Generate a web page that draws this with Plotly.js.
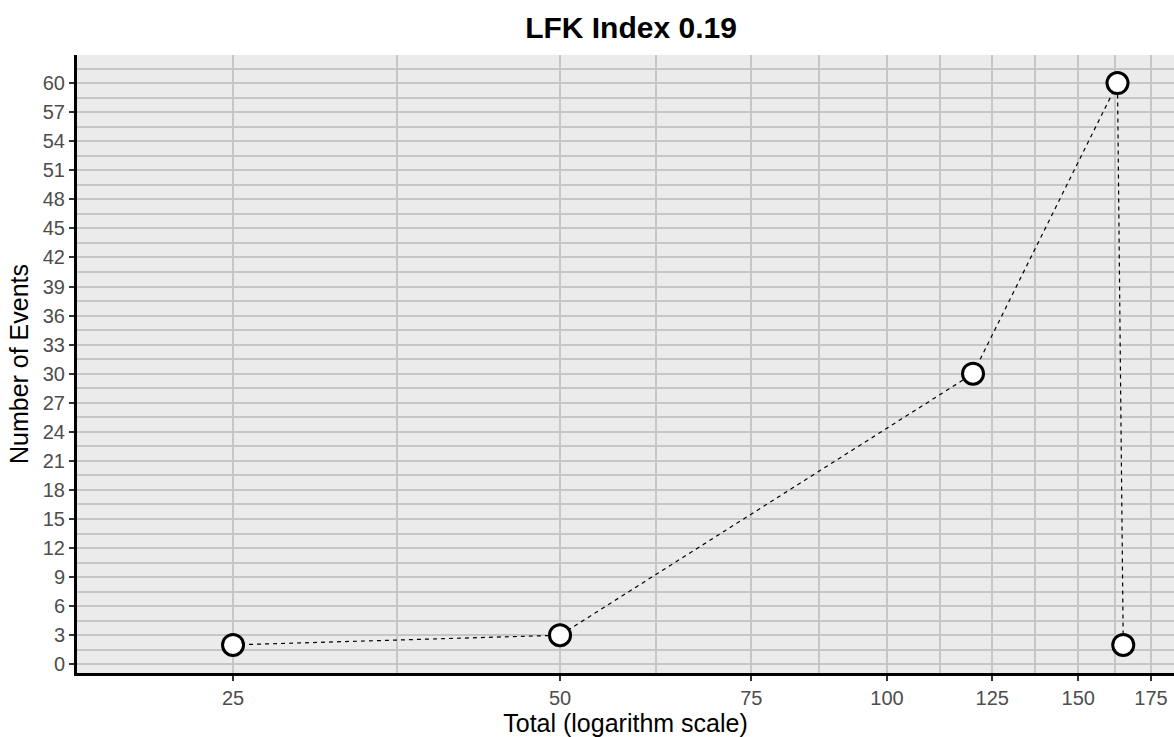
<!DOCTYPE html>
<html>
<head>
<meta charset="utf-8">
<script src="https://cdn.plot.ly/plotly-3.0.1.min.js"></script>
<style>
  html, body { margin: 0; padding: 0; background: #ffffff; overflow: hidden; }
  #chart { width: 1174px; height: 737px; }
</style>
</head>
<body>
<div id="chart"></div>
<script>
// Data
const totals = [25, 50, 120, 163, 165];
const events = [2, 3, 30, 60, 2];

// Axis tick labels
const xTickVals = [25, 50, 75, 100, 125, 150, 175];
const xTickText = ["25", "50", "75", "100", "125", "150", "175"];
const chartTitle = "LFK Index 0.19";
const xTitle = "Total (logarithm scale)";
const yTitle = "Number of Events";

// minor grid lines sit half way (in log space) between the major ticks
const xMinorVals = [];
for (let i = 0; i < xTickVals.length - 1; i++) {
  xMinorVals.push(Math.sqrt(xTickVals[i] * xTickVals[i + 1]));
}

const fontFamily = "Liberation Sans, Arial, Helvetica, sans-serif";
const gridColor = "#c6c6c6";

const trace = {
  x: totals,
  y: events,
  type: "scatter",
  mode: "lines+markers",
  line: { color: "#000000", width: 1.2, dash: "4px,4px" },
  marker: {
    symbol: "circle",
    size: 21,
    color: "#ffffff",
    line: { color: "#000000", width: 3 }
  },
  hoverinfo: "x+y",
  showlegend: false
};

const layout = {
  width: 1174,
  height: 737,
  margin: { l: 77, r: 0, t: 55, b: 64, pad: 0 },
  paper_bgcolor: "#ffffff",
  plot_bgcolor: "#ebebeb",
  font: { family: fontFamily, color: "#000000" },
  title: {
    text: "<b>" + chartTitle + "</b>",
    font: { family: fontFamily, size: 30, color: "#000000" },
    x: 631 / 1174,
    xref: "container",
    xanchor: "center",
    y: 1 - 27 / 737,
    yref: "container",
    yanchor: "middle"
  },
  xaxis: {
    type: "log",
    range: [1.2543, 2.2642],
    tickmode: "array",
    tickvals: xTickVals,
    ticktext: xTickText,
    ticks: "outside",
    ticklen: 5,
    tickwidth: 1.5,
    tickcolor: "#333333",
    tickfont: { family: fontFamily, size: 20, color: "#4d4d4d" },
    showgrid: true,
    gridcolor: gridColor,
    gridwidth: 2,
    minor: {
      tickmode: "array",
      tickvals: xMinorVals,
      showgrid: true,
      gridcolor: gridColor,
      gridwidth: 2,
      ticks: ""
    },
    showline: true,
    linecolor: "#000000",
    linewidth: 3,
    zeroline: false,
    title: {
      text: xTitle,
      font: { family: fontFamily, size: 25, color: "#000000" },
      standoff: 6
    }
  },
  yaxis: {
    range: [-0.9, 62.9],
    tickmode: "linear",
    tick0: 0,
    dtick: 3,
    ticks: "outside",
    ticklen: 5,
    tickwidth: 1.5,
    tickcolor: "#333333",
    tickfont: { family: fontFamily, size: 20, color: "#4d4d4d" },
    showgrid: true,
    gridcolor: gridColor,
    gridwidth: 2,
    minor: {
      tick0: 0,
      dtick: 1.5,
      showgrid: true,
      gridcolor: gridColor,
      gridwidth: 2,
      ticks: ""
    },
    showline: true,
    linecolor: "#000000",
    linewidth: 3,
    zeroline: false,
    title: {
      text: yTitle,
      font: { family: fontFamily, size: 25, color: "#000000" },
      standoff: 8
    }
  }
};

Plotly.newPlot("chart", [trace], layout, { displayModeBar: false, responsive: false });
</script>
</body>
</html>
